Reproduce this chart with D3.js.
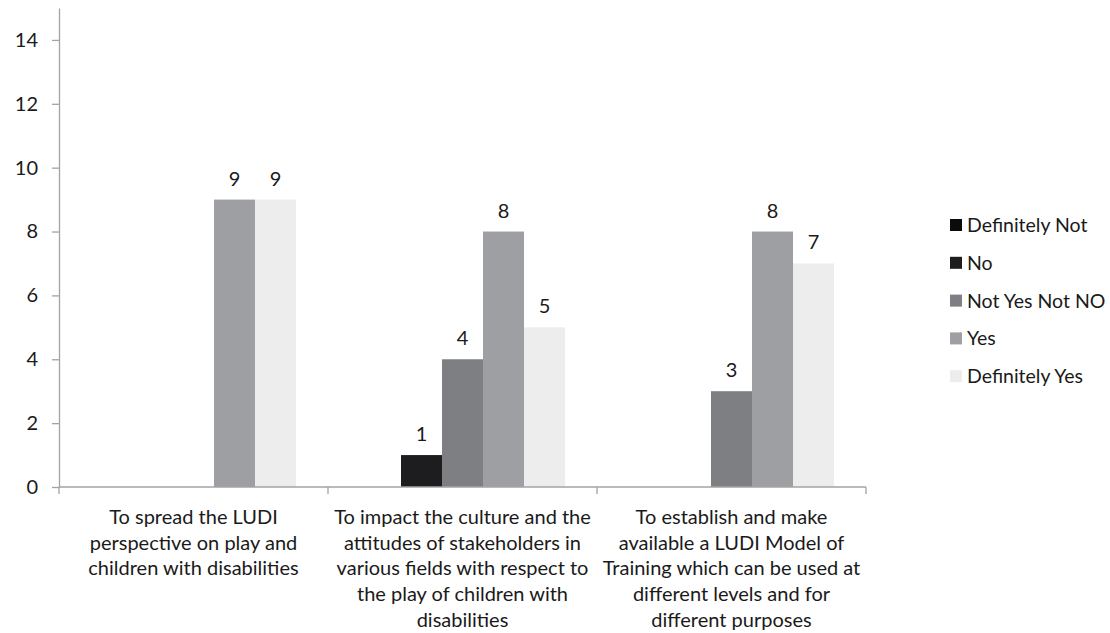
<!DOCTYPE html>
<html>
<head>
<meta charset="utf-8">
<script src="https://cdn.jsdelivr.net/npm/d3@7/dist/d3.min.js"></script>
<style>
  html, body { margin: 0; padding: 0; background: #fff; }
  svg text { font-family: Lato, "Open Sans", sans-serif; fill: #1a1a1a; }
</style>
</head>
<body>
<svg id="chart" width="1110" height="633"></svg>
<script>
// Survey objectives and answer counts per response option
const categories = [
  ["To spread the LUDI", "perspective on play and", "children with disabilities"],
  ["To impact the culture and the", "attitudes of stakeholders in", "various fields with respect to", "the play of children with", "disabilities"],
  ["To establish and make", "available a LUDI Model of", "Training which can be used at", "different levels and for", "different purposes"]
];
const seriesNames = ["Definitely Not", "No", "Not Yes Not NO", "Yes", "Definitely Yes"];
const definitelyNot = [0, 0, 0];
const no = [0, 1, 0];
const notYesNotNo = [0, 4, 3];
const yes = [9, 8, 8];
const definitelyYes = [9, 5, 7];
const yTicks = [0, 2, 4, 6, 8, 10, 12, 14];

const seriesValues = [definitelyNot, no, notYesNotNo, yes, definitelyYes];
const colors = ["#0b0b0b", "#1d1d1f", "#7e7f83", "#9d9fa3", "#ecedec"];

const svg = d3.select("#chart");
const plotLeft = 59, plotRight = 866, plotTop = 8, plotBottom = 487;

const x0 = d3.scaleBand().domain(d3.range(categories.length)).range([plotLeft, plotRight]).padding(0);
const gap = x0.bandwidth() * 0.119;
const x1 = d3.scaleBand().domain(d3.range(seriesNames.length)).range([gap, x0.bandwidth() - gap]).padding(0);
const y = d3.scaleLinear().domain([0, 15]).range([plotBottom, plotTop]);

const axisColor = "#a3a3a3";

// Y axis
const yAxis = svg.append("g").attr("transform", `translate(${plotLeft},0)`)
  .call(d3.axisLeft(y).tickValues(yTicks).tickSize(7).tickPadding(14).tickSizeOuter(0));
yAxis.select(".domain").attr("stroke", axisColor).attr("stroke-width", 1.3);
yAxis.selectAll(".tick line").attr("stroke", axisColor).attr("stroke-width", 1.3);
yAxis.selectAll(".tick text").style("font-size", "20px").attr("fill", "#1a1a1a");

// Bars
const groups = svg.append("g").selectAll("g")
  .data(categories.map((c, i) => i))
  .join("g")
  .attr("transform", i => `translate(${x0(i)},0)`);

const barData = i => seriesValues.map((vals, s) => ({ s, v: vals[i] })).filter(d => d.v > 0);

groups.selectAll("rect")
  .data(barData)
  .join("rect")
  .attr("x", d => x1(d.s))
  .attr("width", x1.bandwidth())
  .attr("y", d => y(d.v))
  .attr("height", d => y(0) - y(d.v))
  .attr("fill", d => colors[d.s]);

groups.selectAll("text.val")
  .data(barData)
  .join("text")
  .attr("class", "val")
  .attr("x", d => x1(d.s) + x1.bandwidth() / 2)
  .attr("y", d => y(d.v) - 14)
  .attr("text-anchor", "middle")
  .style("font-size", "20px")
  .text(d => d.v);

// X axis with ticks at category boundaries
const xAxis = svg.append("g");
xAxis.append("line")
  .attr("x1", plotLeft).attr("x2", plotRight).attr("y1", y(0)).attr("y2", y(0))
  .attr("stroke", axisColor).attr("stroke-width", 1.3);
xAxis.selectAll("line.tick")
  .data(d3.range(categories.length + 1))
  .join("line")
  .attr("class", "tick")
  .attr("x1", i => plotLeft + i * x0.step()).attr("x2", i => plotLeft + i * x0.step())
  .attr("y1", y(0)).attr("y2", y(0) + 7)
  .attr("stroke", axisColor).attr("stroke-width", 1.3);

// Category labels
xAxis.selectAll("text.cat")
  .data(categories)
  .join("text")
  .attr("class", "cat")
  .attr("text-anchor", "middle")
  .style("font-size", "20px")
  .each(function(lines, i) {
    const t = d3.select(this);
    lines.forEach((ln, k) => {
      t.append("tspan")
        .attr("x", x0(i) + x0.bandwidth() / 2)
        .attr("y", 524 + k * 25.7)
        .text(ln);
    });
  });

// Legend
const legend = svg.append("g").attr("transform", "translate(950,225)");
const items = legend.selectAll("g").data(seriesNames).join("g")
  .attr("transform", (d, i) => `translate(0,${i * 37.8})`);
items.append("rect").attr("x", 0).attr("y", -6).attr("width", 12).attr("height", 12)
  .attr("fill", (d, i) => colors[i]);
items.append("text").attr("x", 17).attr("y", 7).style("font-size", "19.5px").text(d => d);
</script>
</body>
</html>
